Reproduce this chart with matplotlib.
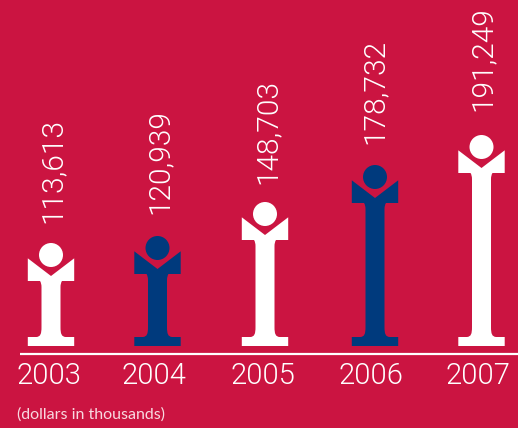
import matplotlib
matplotlib.use('Agg')
import matplotlib.pyplot as plt
from matplotlib.patches import Circle, PathPatch
from matplotlib.path import Path

years = ['2003', '2004', '2005', '2006', '2007']
values = ['113,613', '120,939', '148,703', '178,732', '191,249']
# height of each figure above the baseline
heights = [103, 110, 144, 181, 211]
fill_colors = ['white', '#003a7d', 'white', '#003a7d', 'white']
centers = [51, 157.5, 265, 375, 481.5]
year_x = [49, 154, 262.5, 370.5, 478]
label_x = [53, 160, 268, 375, 483]
label_gaps = [20, 22, 18, 21, 24]

bg = '#cb1441'
plt.rcParams['font.family'] = ['Roboto', 'DejaVu Sans']

fig = plt.figure(figsize=(5.18, 4.28), dpi=100, facecolor=bg)
ax = fig.add_axes([0, 0, 1, 1])
ax.set_xlim(0, 518)
ax.set_ylim(-82, 346)
ax.axis('off')


def draw_person(x, h, color):
    top = h
    verts = [
        (x - 23.2, 0), (x + 23.2, 0), (x + 23.2, 9),
        (x + 14.5, 9), (x + 10.5, 9.5), (x + 9.5, 12), (x + 9.5, 19),
        (x + 9.5, top - 44), (x + 9.5, top - 40), (x + 11, top - 38),
        (x + 23.2, top - 38), (x + 23.2, top - 15.3),
        (x, top - 33), (x - 23.2, top - 15.3), (x - 23.2, top - 38),
        (x - 11, top - 38), (x - 9.5, top - 40), (x - 9.5, top - 44),
        (x - 9.5, 19), (x - 9.5, 12), (x - 10.5, 9.5), (x - 14.5, 9),
        (x - 23.2, 9), (x - 23.2, 0),
    ]
    codes = [Path.MOVETO, Path.LINETO, Path.LINETO,
             Path.LINETO, Path.CURVE4, Path.CURVE4, Path.CURVE4,
             Path.LINETO, Path.CURVE3, Path.CURVE3,
             Path.LINETO, Path.LINETO,
             Path.LINETO, Path.LINETO, Path.LINETO,
             Path.LINETO, Path.CURVE3, Path.CURVE3,
             Path.LINETO, Path.CURVE4, Path.CURVE4, Path.CURVE4,
             Path.LINETO, Path.CLOSEPOLY]
    ax.add_patch(PathPatch(Path(verts, codes), fc=color, ec='none'))
    ax.add_patch(Circle((x, top - 12), 12, fc=color, ec='none'))


for i in range(len(years)):
    draw_person(centers[i], heights[i], fill_colors[i])
    ax.text(year_x[i], -30, years[i], ha='center', va='center', color='white',
            fontsize=21, fontweight=300)
    ax.text(label_x[i], heights[i] + label_gaps[i], values[i], rotation=90,
            ha='center', va='bottom', color='white', fontsize=21.5, fontweight=300)

ax.plot([20, 518], [-8, -8], color='white', lw=1.6, solid_capstyle='butt')
ax.text(17, -69, '(dollars in thousands)', ha='left', va='center', color='#f8d9e0',
        fontsize=11.5, family=['Lato', 'DejaVu Sans'])

fig.savefig('out.png', dpi=100, facecolor=bg)
